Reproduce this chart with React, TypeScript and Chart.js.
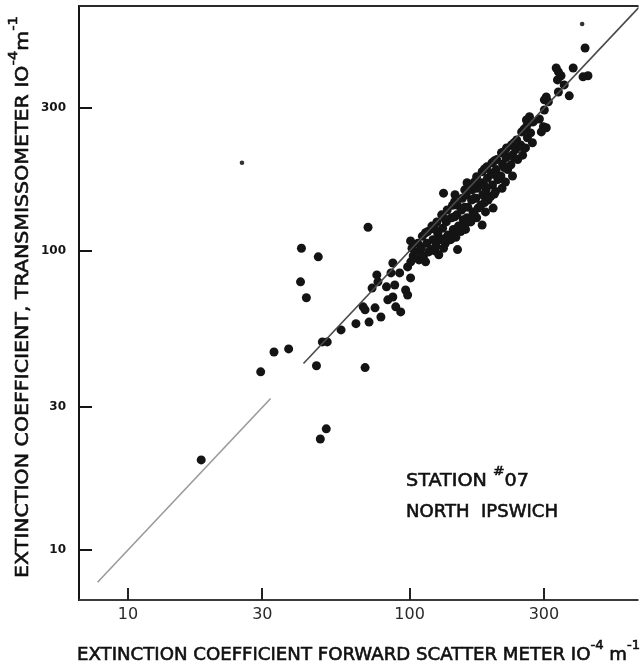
import React, { useEffect, useRef } from 'react';
import { Chart, registerables } from 'chart.js';

Chart.register(...registerables);

// Extinction coefficient, forward scatter meter (10^-4 m^-1)
const forwardScatter = [
  18.2, 29.6, 33, 37.2, 41.3, 47.4, 41, 43, 46.7, 50.6, 48.2, 71.2, 49, 51, 57.1, 64.5, 71.8, 79.1, 69.5,
  68.4, 69.5, 75.4, 73.6, 76.5, 77.2, 82.8, 87.2, 85.9, 88.6, 83.7, 87.2, 89.3, 93, 92.2, 98.4, 100.8, 96.8, 98.4, 100.8, 113.9, 132, 145,
  102, 103, 101, 107, 106, 108, 111, 110, 112, 116, 115, 117, 114, 120, 121, 119,
  125, 126, 124, 127, 130, 131, 129, 132, 136, 135, 137, 134, 142, 141, 143, 140,
  148, 147, 149, 146, 148, 154, 153, 155, 152, 160, 159, 161, 160, 158,
  167, 166, 168, 165, 173, 174, 172, 175, 173, 181, 180, 182, 179, 181,
  188, 189, 187, 190, 186, 196, 195, 197, 194, 198, 204, 203, 206, 202,
  212, 214, 211, 213, 221, 220, 223, 219, 230, 231, 229, 232, 240, 238, 242,
  250, 248, 252, 260, 262, 258, 271, 269, 273,
  123, 123, 133.5, 133.5, 144.5, 144.5, 144.5, 157, 157, 157,
  170, 170, 170, 184.5, 184.5, 184.5, 200, 200, 200, 217, 217, 235, 235, 255, 255,
  266.6, 260, 275, 289, 298.6, 305.8, 293.7,
  305.8, 301, 311, 301,
  331.6, 337.6, 345, 335, 354, 337.6, 369, 381,
  413, 430, 420,
];

// Extinction coefficient, transmissometer (10^-4 m^-1)
const transmissometer = [
  20, 39.4, 45.9, 47, 102, 95.5, 78.8, 69.7, 41.3, 25.4, 23.5, 120, 49.6, 49.6, 54.4, 57.1, 57.8, 60.1, 40.7,
  65, 63.5, 64.5, 75.1, 83.1, 78.8, 75.8, 91.1, 84.4, 76.9, 68.6, 70.1, 65, 62.5, 84.4, 88.4, 81.2, 74, 71.2, 108, 115, 156, 154,
  102, 96.2, 91.9, 106, 99.2, 93.3, 112, 102, 96.2, 116, 106, 99.2, 91.9, 121, 109, 101,
  125, 114, 104, 97, 132, 119, 109, 102, 137, 125, 113, 106, 142, 129, 118, 109,
  142, 132, 121, 111, 101, 150, 137, 127, 116, 169, 154, 140, 129, 118,
  160, 148, 135, 125, 177, 162, 150, 139, 129, 184, 169, 154, 142, 122,
  191, 175, 160, 148, 135, 197, 182, 166, 152, 139, 202, 187, 173, 158,
  213, 195, 178, 162, 221, 205, 187, 170, 226, 209, 194, 178, 235, 218, 202,
  250, 226, 209, 260, 239, 221, 270, 248, 230,
  118, 100, 128, 110, 146, 130, 114, 160, 140, 122,
  170, 150, 132, 188, 165, 145, 200, 180, 155, 215, 190, 230, 205, 255, 220,
  281, 274, 270, 276, 260, 258, 250,
  327, 320, 315, 296,
  409, 397, 385, 373, 359, 340, 330, 409,
  382, 385, 477,
];

// Two faint, small dots
const smallDotX = [25.4, 410];
const smallDotY = [197, 574];

// Line of equality (y = x), drawn in two pieces as in the original
const equalityLowX = [7.8, 32.1];
const equalityHighX = [42, 660];

const xTicks = [10, 30, 100, 300];
const yTicks = [10, 30, 100, 300];
const xTickLabels = ['10', '30', '100', '300'];
const yTickLabels = ['10', '30', '100', '300'];

const FONT = '"DejaVu Sans", "Liberation Sans", sans-serif';

type Part = [string, boolean];

function drawRich(
  ctx: CanvasRenderingContext2D,
  parts: Part[],
  size: number,
  x: number,
  y: number,
  width: number,
  rotate: boolean,
  color: string,
) {
  ctx.save();
  const main = `${size}px ${FONT}`;
  const sup = `${Math.round(size * 0.72)}px ${FONT}`;
  let total = 0;
  const ws = parts.map(([t, s]) => {
    ctx.font = s ? sup : main;
    const w = ctx.measureText(t).width;
    total += w;
    return w;
  });
  const k = width / total;
  ctx.translate(x, y);
  if (rotate) ctx.rotate(-Math.PI / 2);
  ctx.scale(k, 1);
  ctx.fillStyle = color;
  ctx.strokeStyle = color;
  ctx.lineWidth = 0.6;
  ctx.textBaseline = 'alphabetic';
  ctx.textAlign = 'left';
  let cx = 0;
  parts.forEach(([t, s], i) => {
    ctx.font = s ? sup : main;
    const yy = s ? -size * 0.6 : 0;
    ctx.fillText(t, cx, yy);
    ctx.strokeText(t, cx, yy);
    cx += ws[i];
  });
  ctx.restore();
}

const decor = {
  id: 'decor',
  beforeDatasetsDraw(chart: any) {
    const { ctx, chartArea: a, scales } = chart;
    const xs = scales.x;
    const ys = scales.y;
    ctx.save();
    ctx.lineCap = 'butt';
    const seg = (x1: number, y1: number, x2: number, y2: number, c: string, w: number) => {
      ctx.strokeStyle = c;
      ctx.lineWidth = w;
      ctx.beginPath();
      ctx.moveTo(x1, y1);
      ctx.lineTo(x2, y2);
      ctx.stroke();
    };
    // frame
    seg(a.left, a.top - 1, a.left, a.bottom + 1, '#151515', 2);
    seg(a.left, a.top, a.right, a.top, '#2a2a2a', 2);
    seg(a.left, a.bottom, a.right, a.bottom, '#3a3a3a', 2);
    // inward ticks
    xTicks.forEach((v) => {
      const px = Math.round(xs.getPixelForValue(v));
      seg(px, a.bottom, px, a.bottom - 12, '#222', 2);
    });
    yTicks.forEach((v) => {
      const py = Math.round(ys.getPixelForValue(v));
      seg(a.left, py, a.left + 13, py, '#151515', 2);
    });
    // tick labels
    ctx.fillStyle = '#2a2a2a';
    ctx.font = `16px ${FONT}`;
    ctx.textAlign = 'center';
    ctx.textBaseline = 'middle';
    xTicks.forEach((v, i) => {
      ctx.fillText(xTickLabels[i], xs.getPixelForValue(v), a.bottom + 15);
    });
    ctx.fillStyle = '#151515';
    ctx.font = `bold 12px ${FONT}`;
    ctx.textAlign = 'right';
    yTicks.forEach((v, i) => {
      ctx.fillText(yTickLabels[i], a.left - 13, ys.getPixelForValue(v));
    });
    // axis titles
    drawRich(
      ctx,
      [
        ['EXTINCTION COEFFICIENT FORWARD SCATTER METER IO', false],
        ['-4', true],
        [' m', false],
        ['-1', true],
      ],
      18,
      a.left - 2,
      a.bottom + 60,
      563,
      false,
      '#111',
    );
    drawRich(
      ctx,
      [
        ['EXTINCTION COEFFICIENT, TRANSMISSOMETER IO', false],
        ['-4', true],
        ['m', false],
        ['-1', true],
      ],
      18,
      28,
      a.bottom - 22,
      562,
      true,
      '#111',
    );
    // station annotation
    drawRich(ctx, [['STATION ', false], ['#', true], ['07', false]], 18, 406, 486, 123, false, '#111');
    drawRich(ctx, [['NORTH  IPSWICH', false]], 18, 406, 517, 152, false, '#111');
    ctx.restore();
  },
};

export default function App() {
  const ref = useRef<HTMLCanvasElement | null>(null);

  useEffect(() => {
    if (!ref.current) return;
    const points = forwardScatter.map((x, i) => ({ x, y: transmissometer[i] }));
    const small = smallDotX.map((x, i) => ({ x, y: smallDotY[i] }));
    const low = equalityLowX.map((v) => ({ x: v, y: v }));
    const high = equalityHighX.map((v) => ({ x: v, y: v }));
    const chart = new Chart(ref.current, {
      type: 'scatter',
      data: {
        datasets: [
          {
            data: low,
            showLine: true,
            borderColor: '#9a9a9a',
            borderWidth: 1.6,
            pointRadius: 0,
          },
          {
            data: high,
            showLine: true,
            borderColor: '#4a4a4a',
            borderWidth: 1.6,
            pointRadius: 0,
          },
          {
            data: points,
            backgroundColor: '#141414',
            borderColor: '#141414',
            borderWidth: 0,
            pointRadius: 4.5,
          },
          {
            data: small,
            backgroundColor: '#333',
            borderWidth: 0,
            pointRadius: 2.3,
          },
        ],
      },
      options: {
        responsive: false,
        animation: false,
        layout: { padding: { top: 6, right: 0, left: 0, bottom: 0 } },
        plugins: { legend: { display: false }, tooltip: { enabled: false } },
        scales: {
          x: {
            type: 'logarithmic',
            min: 6.7,
            max: 650,
            ticks: { display: false },
            grid: { display: false },
            border: { display: false },
            afterFit: (s: any) => {
              s.height = 70;
            },
          },
          y: {
            type: 'logarithmic',
            min: 6.8,
            max: 659,
            ticks: { display: false },
            grid: { display: false },
            border: { display: false },
            afterFit: (s: any) => {
              s.width = 79;
            },
          },
        },
      },
      plugins: [decor],
    });
    return () => chart.destroy();
  }, []);

  return (
    <div style={{ position: 'absolute', left: 0, top: 0, width: 643, height: 670, background: '#fff' }}>
      <canvas ref={ref} width={643} height={670} style={{ display: 'block' }} />
    </div>
  );
}
